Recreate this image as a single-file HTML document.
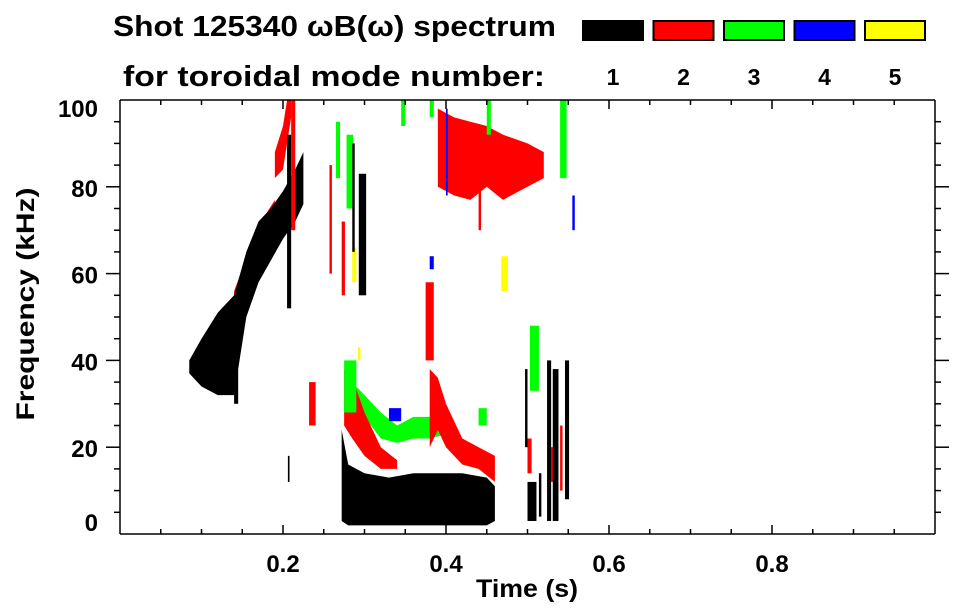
<!DOCTYPE html>
<html><head><meta charset="utf-8"><style>
html,body{margin:0;padding:0;background:#fff;}
svg{display:block;font-family:"Liberation Sans",Arial,sans-serif;font-weight:bold;}
</style></head><body>
<svg id="chart" width="963" height="615" viewBox="0 0 963 615" xmlns="http://www.w3.org/2000/svg">
<text x="113" y="36" font-size="29" textLength="443" lengthAdjust="spacingAndGlyphs">Shot 125340 ωB(ω) spectrum</text>
<text x="123" y="86" font-size="29" textLength="422" lengthAdjust="spacingAndGlyphs">for toroidal mode number:</text>
<g id="legend"></g>
<g id="marks"></g>
<g id="axes"></g>
<text x="527" y="597" font-size="25" text-anchor="middle" textLength="102" lengthAdjust="spacingAndGlyphs">Time (s)</text>
<text transform="translate(34,304) rotate(-90)" font-size="25" text-anchor="middle" textLength="233" lengthAdjust="spacingAndGlyphs">Frequency (kHz)</text>
</svg>
<script>
// ---- data (time in s, frequency in kHz) ----
const modeNumbers = [1, 2, 3, 4, 5];
const modeColors = ["#000000", "#ff0000", "#00ff00", "#0000ff", "#ffff00"];
const xTicks = [0.2, 0.4, 0.6, 0.8];
const xTickLabels = ["0.2", "0.4", "0.6", "0.8"];
const yTicks = [0, 20, 40, 60, 80, 100];
const yTickLabels = ["0", "20", "40", "60", "80", "100"];

// bands: times, lower freq, upper freq
const m1RiseT = [0.085, 0.1, 0.12, 0.14, 0.155, 0.17, 0.185, 0.2, 0.215, 0.225];
const m1RiseLo = [37, 34, 32, 32, 50, 58, 63, 68, 72, 76];
const m1RiseHi = [40, 45, 51, 55, 65, 72, 75, 79, 84, 88];
const m1LowT = [0.272, 0.28, 0.3, 0.33, 0.36, 0.39, 0.42, 0.45, 0.46];
const m1LowLo = [3, 2, 2, 2, 2, 2, 2, 2, 3];
const m1LowHi = [24, 16, 14, 13, 14, 14, 14, 13, 11];
const m2RiseT = [0.14, 0.16, 0.18, 0.19];
const m2RiseLo = [52, 60, 66, 72];
const m2RiseHi = [56, 66, 74, 77];
const m2TopT = [0.19, 0.2, 0.205, 0.21];
const m2TopLo = [82, 84, 90, 96];
const m2TopHi = [88, 94, 100, 100];
const m2DropT = [0.275, 0.285, 0.3, 0.32, 0.34];
const m2DropLo = [25, 22, 18, 15, 15];
const m2DropHi = [38, 36, 28, 20, 17];
const m2MidT = [0.38, 0.39, 0.4, 0.42, 0.44, 0.46];
const m2MidLo = [20, 24, 20, 16, 15, 12];
const m2MidHi = [38, 36, 30, 22, 20, 18];
const m2HighT = [0.39, 0.41, 0.43, 0.45, 0.47, 0.5, 0.52];
const m2HighLo = [80, 78, 77, 80, 77, 80, 82];
const m2HighHi = [98, 96, 95, 94, 92, 90, 88];
const m3BandT = [0.29, 0.3, 0.32, 0.34, 0.36, 0.38, 0.4];
const m3BandLo = [30, 27, 22, 21, 22, 22, 23];
const m3BandHi = [34, 32, 28, 25, 27, 27, 28];

// streaks: [tStart, tEnd, fLow, fHigh]
const m1Streaks = [[0.293,0.302,55,83],[0.285,0.288,65,90],[0.205,0.21,52,92],[0.5,0.511,3,12],[0.497,0.5,20,38],
  [0.524,0.529,3,40],[0.531,0.538,3,38],[0.546,0.551,8,40],[0.514,0.517,4,14],[0.206,0.208,12,18],[0.14,0.145,30,38]];
const m2Streaks = [[0.232,0.24,25,35],[0.375,0.385,40,58],[0.257,0.26,60,85],[0.272,0.276,55,72],
  [0.5,0.505,14,22],[0.528,0.533,12,20],[0.54,0.543,10,25],[0.44,0.443,70,85],[0.21,0.215,70,100]];
const m3Streaks = [[0.265,0.27,82,95],[0.278,0.286,75,92],[0.295,0.3,70,80],[0.503,0.514,33,48],
  [0.54,0.548,82,100],[0.44,0.45,25,29],[0.275,0.29,28,40],[0.38,0.385,96,100],[0.45,0.455,92,100],[0.345,0.35,94,100]];
const m4Streaks = [[0.33,0.345,26,29],[0.38,0.385,61,64],[0.4,0.402,78,98],[0.555,0.558,70,78]];
const m5Streaks = [[0.285,0.29,58,66],[0.468,0.476,56,64],[0.292,0.295,40,43]];

// ---- scales ----
const X0 = 120, X1 = 935, Y0 = 534, Y1 = 100;
const xs = t => X0 + t * (X1 - X0);
const ys = f => Y0 - f / 100 * (Y0 - Y1);
const NS = "http://www.w3.org/2000/svg";
const marks = document.getElementById("marks");
const axes = document.getElementById("axes");
const legend = document.getElementById("legend");

function band(t, lo, hi, color, name) {
  const pts = [];
  for (let i = 0; i < t.length; i++) pts.push(xs(t[i]) + "," + ys(hi[i]));
  for (let i = t.length - 1; i >= 0; i--) pts.push(xs(t[i]) + "," + ys(lo[i]));
  const p = document.createElementNS(NS, "polygon");
  p.setAttribute("points", pts.join(" "));
  p.setAttribute("fill", color);
  
  
  marks.appendChild(p);
}
function streaks(list, color, name) {
  list.forEach(s => {
    const r = document.createElementNS(NS, "rect");
    r.setAttribute("x", xs(s[0]));
    r.setAttribute("width", Math.max(1, xs(s[1]) - xs(s[0])));
    r.setAttribute("y", ys(s[3]));
    r.setAttribute("height", ys(s[2]) - ys(s[3]));
    r.setAttribute("fill", color);
    
    
    marks.appendChild(r);
  });
}
band(m2RiseT, m2RiseLo, m2RiseHi, modeColors[1], "mode2-rising-band");
band(m2TopT, m2TopLo, m2TopHi, modeColors[1], "mode2-top-band");
band(m2HighT, m2HighLo, m2HighHi, modeColors[1], "mode2-high-band");
band(m3BandT, m3BandLo, m3BandHi, modeColors[2], "mode3-band");
band(m2DropT, m2DropLo, m2DropHi, modeColors[1], "mode2-drop-band");
band(m2MidT, m2MidLo, m2MidHi, modeColors[1], "mode2-mid-band");
band(m1RiseT, m1RiseLo, m1RiseHi, modeColors[0], "mode1-rising-band");
band(m1LowT, m1LowLo, m1LowHi, modeColors[0], "mode1-low-band");
streaks(m2Streaks, modeColors[1], "mode2-streak");
streaks(m3Streaks, modeColors[2], "mode3-streak");
streaks(m4Streaks, modeColors[3], "mode4-streak");
streaks(m5Streaks, modeColors[4], "mode5-streak");
streaks(m1Streaks, modeColors[0], "mode1-streak");

function line(x1, y1, x2, y2, name) {
  const l = document.createElementNS(NS, "line");
  l.setAttribute("x1", x1); l.setAttribute("y1", y1);
  l.setAttribute("x2", x2); l.setAttribute("y2", y2);
  l.setAttribute("stroke", "#000"); l.setAttribute("stroke-width", "1.5");
  
  
  axes.appendChild(l);
}
function text(x, y, s, anchor, size, name) {
  const t = document.createElementNS(NS, "text");
  t.setAttribute("x", x); t.setAttribute("y", y);
  t.setAttribute("text-anchor", anchor); t.setAttribute("font-size", size);
  t.textContent = s;
  
  
  axes.appendChild(t);
}
// frame
line(X0, Y0, X1, Y0, "x-axis-bottom");
line(X0, Y1, X1, Y1, "x-axis-top");
line(X0, Y0, X0, Y1, "y-axis-left");
line(X1, Y0, X1, Y1, "y-axis-right");
// x ticks
for (let i = 1; i < 20; i++) {
  const t = i * 0.05, major = i % 4 === 0, L = major ? 9 : 5;
  line(xs(t), Y0, xs(t), Y0 - L, "x-tick");
  line(xs(t), Y1, xs(t), Y1 + L, "x-tick-top");
}
xTicks.forEach((t, i) => text(xs(t), 572, xTickLabels[i], "middle", 24, "x-tick-label"));
// y ticks
for (let i = 1; i < 20; i++) {
  const f = i * 5, major = i % 4 === 0, L = major ? 14 : 6;
  line(X0, ys(f), X0 - L, ys(f), "y-tick");
  line(X1, ys(f), X1 + L, ys(f), "y-tick-right");
}
yTicks.forEach((f, i) => {
  let b = ys(f) + 10; b = Math.min(531, Math.max(117, b));
  text(98, b, yTickLabels[i], "end", 24, "y-tick-label");
});
// legend
modeNumbers.forEach((m, i) => {
  const x = 582 + i * 70.5;
  const r = document.createElementNS(NS, "rect");
  r.setAttribute("x", x + 1); r.setAttribute("y", 21);
  r.setAttribute("width", 60); r.setAttribute("height", 19);
  r.setAttribute("fill", modeColors[i]); r.setAttribute("stroke", "#000"); r.setAttribute("stroke-width", "2");
  
  
  legend.appendChild(r);
  const t = document.createElementNS(NS, "text");
  t.setAttribute("x", x + 31); t.setAttribute("y", 85);
  t.setAttribute("text-anchor", "middle"); t.setAttribute("font-size", 23);
  t.textContent = m;
  
  
  legend.appendChild(t);
});
</script>
</body></html>
